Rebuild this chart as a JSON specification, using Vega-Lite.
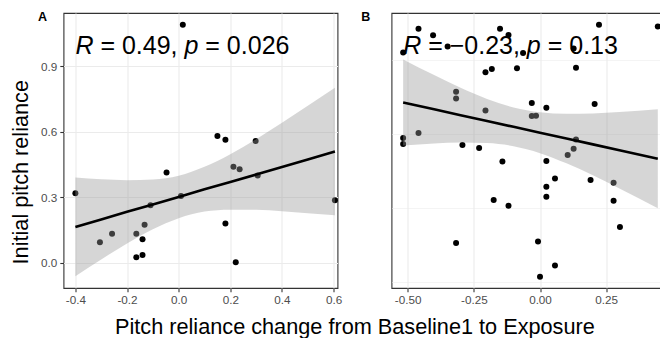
{
  "$schema": "https://vega.github.io/schema/vega-lite/v6.json",
  "padding": {"left": 9.5, "top": 10, "right": 0, "bottom": 0},
  "background": "white",
  "datasets": {
    "ptsA": [
      {"x": -0.40, "y": 0.318}, {"x": -0.305, "y": 0.094}, {"x": -0.258, "y": 0.133},
      {"x": -0.164, "y": 0.132}, {"x": -0.164, "y": 0.025}, {"x": -0.140, "y": 0.035},
      {"x": -0.140, "y": 0.107}, {"x": -0.132, "y": 0.174}, {"x": -0.109, "y": 0.263},
      {"x": -0.047, "y": 0.413}, {"x": 0.009, "y": 0.306}, {"x": 0.016, "y": 1.090},
      {"x": 0.150, "y": 0.580}, {"x": 0.181, "y": 0.563}, {"x": 0.181, "y": 0.179},
      {"x": 0.212, "y": 0.439}, {"x": 0.236, "y": 0.428}, {"x": 0.221, "y": 0.002},
      {"x": 0.298, "y": 0.557}, {"x": 0.306, "y": 0.399}, {"x": 0.605, "y": 0.286}
    ],
    "bandA": [
      {"x": -0.40, "fit": 0.164, "lo": -0.062, "hi": 0.390},
      {"x": -0.30, "fit": 0.198, "lo": 0.015, "hi": 0.382},
      {"x": -0.20, "fit": 0.233, "lo": 0.088, "hi": 0.378},
      {"x": -0.10, "fit": 0.267, "lo": 0.153, "hi": 0.381},
      {"x": 0.00, "fit": 0.301, "lo": 0.204, "hi": 0.398},
      {"x": 0.10, "fit": 0.336, "lo": 0.234, "hi": 0.439},
      {"x": 0.20, "fit": 0.370, "lo": 0.243, "hi": 0.497},
      {"x": 0.30, "fit": 0.404, "lo": 0.242, "hi": 0.566},
      {"x": 0.40, "fit": 0.438, "lo": 0.236, "hi": 0.641},
      {"x": 0.50, "fit": 0.473, "lo": 0.227, "hi": 0.719},
      {"x": 0.605, "fit": 0.509, "lo": 0.217, "hi": 0.801}
    ],
    "ptsB": [
      {"x": -0.517, "y": -0.0397}, {"x": -0.517, "y": -0.1554}, {"x": -0.517, "y": -0.1635},
      {"x": -0.459, "y": -0.0077}, {"x": -0.459, "y": -0.1486}, {"x": -0.404, "y": -0.0167},
      {"x": -0.349, "y": -0.0316}, {"x": -0.317, "y": -0.0928}, {"x": -0.317, "y": -0.1019},
      {"x": -0.317, "y": -0.2973}, {"x": -0.293, "y": -0.1649}, {"x": -0.230, "y": -0.1690},
      {"x": -0.206, "y": -0.0667}, {"x": -0.206, "y": -0.1181}, {"x": -0.182, "y": -0.0622},
      {"x": -0.175, "y": -0.2392}, {"x": -0.151, "y": -0.0077}, {"x": -0.142, "y": -0.1870},
      {"x": -0.119, "y": -0.0162}, {"x": -0.119, "y": -0.2469}, {"x": -0.087, "y": -0.0613},
      {"x": -0.064, "y": -0.0405}, {"x": -0.031, "y": -0.1081}, {"x": -0.031, "y": -0.1257},
      {"x": -0.015, "y": -0.1253}, {"x": -0.0075, "y": -0.2951}, {"x": 0.000, "y": -0.3428},
      {"x": 0.024, "y": -0.1145}, {"x": 0.024, "y": -0.1865}, {"x": 0.024, "y": -0.2212},
      {"x": 0.024, "y": -0.2347}, {"x": 0.0566, "y": -0.2100}, {"x": 0.0566, "y": -0.3275},
      {"x": 0.1045, "y": -0.1784}, {"x": 0.127, "y": -0.0343}, {"x": 0.127, "y": -0.1699},
      {"x": 0.136, "y": -0.0604}, {"x": 0.136, "y": -0.1573}, {"x": 0.191, "y": -0.2122},
      {"x": 0.2064, "y": -0.1095}, {"x": 0.2228, "y": -0.0023}, {"x": 0.278, "y": -0.2158},
      {"x": 0.278, "y": -0.2401}, {"x": 0.302, "y": -0.2757}, {"x": 0.445, "y": -0.0046}
    ],
    "bandB": [
      {"x": -0.517, "fit": -0.1073, "lo": -0.1654, "hi": -0.0492},
      {"x": -0.40, "fit": -0.1166, "lo": -0.1628, "hi": -0.0704},
      {"x": -0.30, "fit": -0.1245, "lo": -0.1615, "hi": -0.0875},
      {"x": -0.20, "fit": -0.1324, "lo": -0.1622, "hi": -0.1026},
      {"x": -0.10, "fit": -0.1403, "lo": -0.1665, "hi": -0.1141},
      {"x": 0.00, "fit": -0.1482, "lo": -0.1758, "hi": -0.1206},
      {"x": 0.10, "fit": -0.1561, "lo": -0.1895, "hi": -0.1227},
      {"x": 0.20, "fit": -0.1640, "lo": -0.2058, "hi": -0.1222},
      {"x": 0.30, "fit": -0.1719, "lo": -0.2235, "hi": -0.1203},
      {"x": 0.445, "fit": -0.1834, "lo": -0.2503, "hi": -0.1165}
    ]
  },
  "spacing": 54,
  "bounds": "flush",
  "hconcat": [
    {
      "width": 274,
      "height": 275,
      "layer": [
        {
          "data": {"name": "ptsA"},
          "mark": {"type": "point", "filled": true, "size": 36, "color": "#000000", "opacity": 1, "strokeWidth": 0},
          "encoding": {
            "x": {
              "field": "x", "type": "quantitative",
              "scale": {"domain": [-0.446, 0.615], "nice": false, "zero": false},
              "axis": {
                "title": "Pitch reliance change from Baseline1 to Exposure",
                "titleX": 51, "titleY": 45, "titleAlign": "left", "titleBaseline": "alphabetic", "titleAngle": 0, "titleLimit": 1000,
                "values": [-0.4, -0.3, -0.2, -0.1, 0, 0.1, 0.2, 0.3, 0.4, 0.5, 0.6],
                "labelExpr": "abs(datum.value*5 - round(datum.value*5)) < 0.01 ? ((datum.value < -0.0001 ? '-' : '') + format(abs(datum.value), '.1f')) : ''",
                "tickOpacity": {"condition": {"test": "abs(datum.value*5 - round(datum.value*5)) < 0.01", "value": 1}, "value": 0},
                "gridWidth": {"condition": {"test": "abs(datum.value*5 - round(datum.value*5)) < 0.01", "value": 1.1}, "value": 0.55}
              }
            },
            "y": {
              "field": "y", "type": "quantitative",
              "scale": {"domain": [-0.116, 1.144], "nice": false, "zero": false},
              "axis": {
                "title": "Initial pitch reliance",
                "titleX": -36.3, "titleY": 158.7, "titleAlign": "center", "titleBaseline": "alphabetic", "titleAngle": 270, "titleLimit": 1000,
                "values": [0, 0.15, 0.3, 0.45, 0.6, 0.75, 0.9, 1.05],
                "labelExpr": "abs(datum.value/0.3 - round(datum.value/0.3)) < 0.01 ? ((datum.value < -0.0001 ? '-' : '') + format(abs(datum.value), '.1f')) : ''",
                "tickOpacity": {"condition": {"test": "abs(datum.value/0.3 - round(datum.value/0.3)) < 0.01", "value": 1}, "value": 0},
                "gridWidth": {"condition": {"test": "abs(datum.value/0.3 - round(datum.value/0.3)) < 0.01", "value": 1.1}, "value": 0.55}
              }
            }
          }
        },
        {
          "data": {"name": "bandA"},
          "mark": {"type": "area", "color": "#999999", "opacity": 0.4, "interpolate": "monotone"},
          "encoding": {
            "x": {"field": "x", "type": "quantitative"},
            "y": {"field": "lo", "type": "quantitative"},
            "y2": {"field": "hi"}
          }
        },
        {
          "data": {"name": "bandA"},
          "mark": {"type": "line", "color": "#000000", "strokeWidth": 2.6},
          "encoding": {
            "x": {"field": "x", "type": "quantitative"},
            "y": {"field": "fit", "type": "quantitative"}
          }
        },
        {
          "data": {"values": [{"k": 1}]},
          "mark": {"type": "text", "text": "A", "font": "Liberation Sans", "fontWeight": "bold", "fontSize": 12.5, "align": "left", "baseline": "alphabetic", "color": "#000000"},
          "encoding": {"x": {"datum": -0.545, "type": "quantitative"}, "y": {"datum": 1.109, "type": "quantitative"}}
        },
        {
          "data": {"values": [{"k": 1}]},
          "mark": {"type": "text", "text": "R", "font": "Liberation Sans", "fontStyle": "italic", "fontSize": 25, "align": "left", "baseline": "alphabetic", "color": "#000000", "dx": 0},
          "encoding": {"x": {"datum": -0.40, "type": "quantitative"}, "y": {"datum": 0.957, "type": "quantitative"}}
        },
        {
          "data": {"values": [{"k": 1}]},
          "mark": {"type": "text", "text": "= 0.49,", "font": "Liberation Sans", "fontSize": 25, "align": "left", "baseline": "alphabetic", "color": "#000000", "dx": 25},
          "encoding": {"x": {"datum": -0.40, "type": "quantitative"}, "y": {"datum": 0.957, "type": "quantitative"}}
        },
        {
          "data": {"values": [{"k": 1}]},
          "mark": {"type": "text", "text": "p", "font": "Liberation Sans", "fontStyle": "italic", "fontSize": 25, "align": "left", "baseline": "alphabetic", "color": "#000000", "dx": 109.1},
          "encoding": {"x": {"datum": -0.40, "type": "quantitative"}, "y": {"datum": 0.957, "type": "quantitative"}}
        },
        {
          "data": {"values": [{"k": 1}]},
          "mark": {"type": "text", "text": "= 0.026", "font": "Liberation Sans", "fontSize": 25, "align": "left", "baseline": "alphabetic", "color": "#000000", "dx": 129.95},
          "encoding": {"x": {"datum": -0.40, "type": "quantitative"}, "y": {"datum": 0.957, "type": "quantitative"}}
        }
      ]
    },
    {
      "width": 279,
      "height": 275,
      "layer": [
        {
          "data": {"name": "ptsB"},
          "mark": {"type": "point", "filled": true, "size": 36, "color": "#000000", "opacity": 1, "strokeWidth": 0},
          "encoding": {
            "x": {
              "field": "x", "type": "quantitative",
              "scale": {"domain": [-0.561, 0.493], "nice": false, "zero": false},
              "axis": {
                "title": null,
                "values": [-0.5, -0.375, -0.25, -0.125, 0, 0.125, 0.25, 0.375],
                "labelExpr": "abs(datum.value*4 - round(datum.value*4)) < 0.01 ? ((datum.value < -0.0001 ? '-' : '') + format(abs(datum.value), '.2f')) : ''",
                "tickOpacity": {"condition": {"test": "abs(datum.value*4 - round(datum.value*4)) < 0.01", "value": 1}, "value": 0},
                "gridWidth": {"condition": {"test": "abs(datum.value*4 - round(datum.value*4)) < 0.01", "value": 1.1}, "value": 0.55}
              }
            },
            "y": {
              "field": "y", "type": "quantitative",
              "scale": {"domain": [-0.358, 0.0135], "nice": false, "zero": false},
              "axis": {
                "title": null,
                "values": [-0.35, -0.3, -0.25, -0.2, -0.15, -0.1, -0.05, 0],
                "labelExpr": "abs(datum.value*10 - round(datum.value*10)) < 0.01 ? ((datum.value < -0.0001 ? '-' : '') + format(abs(datum.value), '.1f')) : ''",
                "tickOpacity": {"condition": {"test": "abs(datum.value*10 - round(datum.value*10)) < 0.01", "value": 1}, "value": 0},
                "gridWidth": {"condition": {"test": "abs(datum.value*10 - round(datum.value*10)) < 0.01", "value": 1.1}, "value": 0.55}
              }
            }
          }
        },
        {
          "data": {"name": "bandB"},
          "mark": {"type": "area", "color": "#999999", "opacity": 0.4, "interpolate": "monotone"},
          "encoding": {
            "x": {"field": "x", "type": "quantitative"},
            "y": {"field": "lo", "type": "quantitative"},
            "y2": {"field": "hi"}
          }
        },
        {
          "data": {"name": "bandB"},
          "mark": {"type": "line", "color": "#000000", "strokeWidth": 2.6},
          "encoding": {
            "x": {"field": "x", "type": "quantitative"},
            "y": {"field": "fit", "type": "quantitative"}
          }
        },
        {
          "data": {"values": [{"k": 1}]},
          "mark": {"type": "text", "text": "B", "font": "Liberation Sans", "fontWeight": "bold", "fontSize": 12.5, "align": "left", "baseline": "alphabetic", "color": "#000000"},
          "encoding": {"x": {"datum": -0.675, "type": "quantitative"}, "y": {"datum": 0.0022, "type": "quantitative"}}
        },
        {
          "data": {"values": [{"k": 1}]},
          "mark": {"type": "text", "text": "R", "font": "Liberation Sans", "fontStyle": "italic", "fontSize": 25, "align": "left", "baseline": "alphabetic", "color": "#000000", "dx": 0},
          "encoding": {"x": {"datum": -0.517, "type": "quantitative"}, "y": {"datum": -0.0419, "type": "quantitative"}}
        },
        {
          "data": {"values": [{"k": 1}]},
          "mark": {"type": "text", "text": "= −0.23,", "font": "Liberation Sans", "fontSize": 25, "align": "left", "baseline": "alphabetic", "color": "#000000", "dx": 25},
          "encoding": {"x": {"datum": -0.517, "type": "quantitative"}, "y": {"datum": -0.0419, "type": "quantitative"}}
        },
        {
          "data": {"values": [{"k": 1}]},
          "mark": {"type": "text", "text": "p", "font": "Liberation Sans", "fontStyle": "italic", "fontSize": 25, "align": "left", "baseline": "alphabetic", "color": "#000000", "dx": 123.7},
          "encoding": {"x": {"datum": -0.517, "type": "quantitative"}, "y": {"datum": -0.0419, "type": "quantitative"}}
        },
        {
          "data": {"values": [{"k": 1}]},
          "mark": {"type": "text", "text": "= 0.13", "font": "Liberation Sans", "fontSize": 25, "align": "left", "baseline": "alphabetic", "color": "#000000", "dx": 144.55},
          "encoding": {"x": {"datum": -0.517, "type": "quantitative"}, "y": {"datum": -0.0419, "type": "quantitative"}}
        }
      ]
    }
  ],
  "config": {
    "font": "Liberation Sans",
    "view": {"stroke": "#333333", "strokeWidth": 1.1},
    "axis": {
      "domain": false,
      "grid": true,
      "gridColor": "#ebebeb",
      "tickColor": "#333333",
      "tickSize": 3.7,
      "tickWidth": 1.1,
      "labelColor": "#4d4d4d",
      "labelFont": "Liberation Sans",
      "labelFontSize": 11.7,
      "labelPadding": 3,
      "labelFlush": false,
      "labelOverlap": false,
      "labelBound": false,
      "titleFont": "Liberation Sans",
      "titleFontSize": 21.7,
      "titleFontWeight": "normal",
      "titleColor": "#000000"
    }
  }
}
